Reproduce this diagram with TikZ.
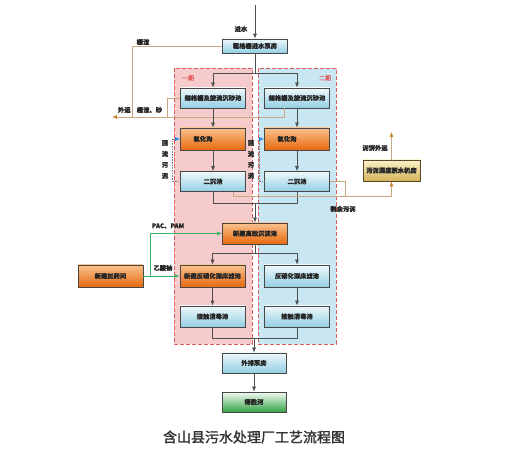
\documentclass[tikz,border=0pt]{standalone}
\usepackage{fontspec}
\setmainfont{Noto Sans CJK SC}[FakeBold=0.6]
\newfontfamily\titlefont{Noto Sans CJK SC}[FakeBold=1.8]
\usetikzlibrary{arrows.meta}
\definecolor{boxline}{HTML}{474747}
\definecolor{flowline}{HTML}{4F4F4F}
\definecolor{bluetop}{HTML}{EEF8FB}
\definecolor{bluebot}{HTML}{93CFE3}
\definecolor{orgtop}{HTML}{F9C28E}
\definecolor{orgbot}{HTML}{E8690F}
\definecolor{mudtop}{HTML}{FAF2C8}
\definecolor{mudbot}{HTML}{D6B35A}
\definecolor{rivertop}{HTML}{F4FBF4}
\definecolor{riverbot}{HTML}{33A345}
\definecolor{pinkarea}{HTML}{F5CBCB}
\definecolor{bluearea}{HTML}{C9E7F3}
\definecolor{phaseline}{HTML}{E25B5B}
\definecolor{tanline}{HTML}{C9A784}
\definecolor{tanhead}{HTML}{C9812F}
\definecolor{dosegreen}{HTML}{3DB56A}
\definecolor{backblue}{HTML}{2E86D6}
\tikzset{
  unit/.style={draw=boxline,line width=0.7pt,minimum width=65,minimum height=20,
    inner sep=1pt,font=\fontsize{6.3}{7}\selectfont\bfseries,text=black!85},
  bluebox/.style={unit,top color=bluetop,bottom color=bluebot},
  orangebox/.style={unit,top color=orgtop,bottom color=orgbot},
  mudbox/.style={unit,draw=black!60!mudbot,top color=mudtop,bottom color=mudbot},
  riverbox/.style={unit,top color=rivertop,bottom color=riverbot},
  phase/.style={draw=phaseline,line width=0.9pt,dash pattern=on 4pt off 2pt},
  phasetag/.style={text=phaseline,font=\fontsize{6}{7}\selectfont},
  tag/.style={font=\fontsize{6.3}{7}\selectfont\bfseries,text=black!85,inner sep=1pt},
  flow/.style={->,draw=flowline,line width=0.6pt},
  tanflow/.style={draw=tanline,line width=0.7pt},
  dosing/.style={draw=dosegreen,line width=0.7pt,-{Latex[length=5pt,width=4pt,color=dosegreen]}},
  backflow/.style={draw=gray,densely dotted,line width=0.6pt,-{Latex[length=5pt,width=4pt,color=backblue]}}
}
\begin{document}
\begin{tikzpicture}[x=1pt,y=-1pt,>={Latex[length=5pt,width=4pt]}]
\useasboundingbox (0,0) rectangle (525,454);
% two phases
\draw[phase,fill=pinkarea] (174,68) rectangle (252,344);
\draw[phase,fill=bluearea] (258,68) rectangle (336,344);
\node[phasetag] (tagA) at (188,78) {一期};
\node[phasetag] (tagB) at (325,78) {二期};

\node[bluebox,minimum height=14] (pump) at (255,46) {粗格栅进水泵房};
\node[bluebox] (fineA) at (213,98) {细格栅及旋流沉砂池};
\node[bluebox] (fineB) at (297,98) {细格栅及旋流沉砂池};
\node[orangebox,minimum height=22] (oxA) at (213,139) {\hspace*{-20pt}氧化沟};
\node[orangebox,minimum height=22] (oxB) at (297,139) {\hspace*{-20pt}氧化沟};
\node[bluebox] (secA) at (213,181.5) {二沉池};
\node[bluebox] (secB) at (297,181.5) {二沉池};
\node[orangebox,minimum height=21] (hiEff) at (255,233.5) {新建高效沉淀池};
\node[orangebox,minimum height=22] (denA) at (212.5,276) {新建反硝化深床滤池};
\node[bluebox,minimum height=22] (denB) at (297,276) {反硝化深床滤池};
\node[bluebox,minimum height=21] (disA) at (212.5,316.5) {接触消毒池};
\node[bluebox,minimum height=21] (disB) at (297,316.5) {接触消毒池};
\node[bluebox,minimum width=64] (outPump) at (254,363) {外排泵房};
\node[riverbox,minimum width=64] (river) at (254,402) {得胜河};
\node[orangebox,minimum height=22] (dose) at (110.5,276) {新建加药间};
\node[mudbox,minimum width=57,minimum height=21] (sludge) at (391.5,170.5) {污泥深度脱水机房};

\coordinate (inlet) at (255,5);
\coordinate (split1) at (255,73);
\coordinate (ship) at (112,117);
\coordinate (merge1) at (255,203);
\coordinate (waste) at (391.5,196);
\coordinate (wasteB) at (345,196);
\coordinate (cake) at (391.5,132);
\coordinate (split2) at (255,253);
\coordinate (merge2) at (254,338);
\coordinate (tee) at (150,276);

\draw[flow] (inlet) -- (pump);
\node[tag] (inTag) at (241,29) {进水};
\draw[tanflow] (pump.west) -| (132,117);
\node[tag] (slagTag) at (143,42) {栅渣};
\draw[tanflow] (fineA.west) -| (167,117);
\draw[tanflow,-{Latex[length=5pt,width=4pt,color=tanhead]}] ([xshift=-13]fineB.south) |- (ship);
\node[tag] (shipTag) at (140,110) {外运\quad 栅渣、砂};

\draw[flowline,line width=0.6pt] (pump) -- (split1);
\draw[flow] (split1) -| (fineA);
\draw[flow] (split1) -| (fineB);
\draw[flow] (fineA) -- (oxA);
\draw[flow] (fineB) -- (oxB);
\draw[flow] (oxA) -- (secA);
\draw[flow] (oxB) -- (secB);

\draw[backflow] (secA.west) -- (172,181.5) |- (oxA.west);
\draw[backflow] (secB.west) -- (259,181.5) |- (oxB.west);
\node[tag,align=center,font=\fontsize{6.3}{11}\selectfont\bfseries] (backA) at (165,159.5) {回\\流\\污\\泥};
\node[tag,align=center,font=\fontsize{6.3}{11}\selectfont\bfseries] (backB) at (251,159.5) {回\\流\\污\\泥};

\draw[flowline,line width=0.6pt] (secA) |- (merge1);
\draw[flowline,line width=0.6pt] (secB) |- (merge1);
\draw[flow] (merge1) -- (hiEff);

\draw[tanflow,-{Latex[length=5pt,width=4pt,color=tanhead]}] ([xshift=20]secA.south) |- (waste) -- (sludge);
\draw[tanflow] (secB.east) -| (wasteB);
\node[tag] (wasteTag) at (343,209) {剩余污泥};
\draw[tanflow,-{Latex[length=5pt,width=4pt,color=tanhead]}] (sludge) -- (cake);
\node[tag] (cakeTag) at (375,148) {泥饼外运};

\draw[flowline,line width=0.6pt] (hiEff) -- (split2);
\draw[flow] (split2) -| (denA);
\draw[flow] (split2) -| (denB);
\draw[flow] (denA) -- (disA);
\draw[flow] (denB) -- (disB);
\draw[flowline,line width=0.6pt] (disA) |- (merge2);
\draw[flowline,line width=0.6pt] (disB) |- (merge2);
\draw[flow] (merge2) -- (outPump);
\draw[flow] (outPump) -- (river);

\draw[dosing] (dose) -- (denA);
\node[tag] (acetTag) at (163,268) {乙酸钠};
\draw[dosing] (tee) |- (hiEff);
\node[tag] (pacTag) at (168,226) {PAC、PAM};

\node[font=\fontsize{14}{16}\selectfont\titlefont,text=black!80] (title) at (254,437) {含山县污水处理厂工艺流程图};
\end{tikzpicture}
\end{document}
